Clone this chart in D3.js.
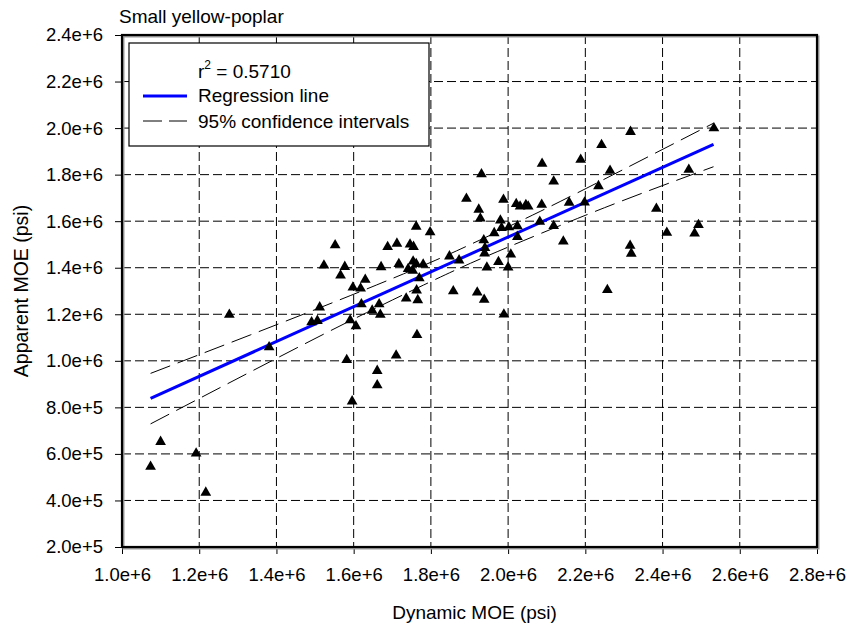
<!DOCTYPE html>
<html>
<head>
<meta charset="utf-8">
<script src="https://cdn.jsdelivr.net/npm/d3@7"></script>
<style>
  body { margin: 0; background: #fff; }
  text { font-family: "Liberation Sans", Arial, sans-serif; fill: #000; }
</style>
</head>
<body>
<script>
// Dynamic MOE (x) and apparent MOE (y), psi
const dynamicMOE = [
  1074000, 1100000, 1192000, 1217000, 1278000, 1381000, 1491000, 1506000, 1512000, 1552000,
  1523000, 1577000, 1566000, 1630000, 1598000, 1618000, 1620000, 1666000, 1648000, 1669000,
  1591000, 1606000, 1582000, 1710000, 1661000, 1661000, 1596000, 1671000, 1688000, 1712000,
  1746000, 1755000, 1717000, 1754000, 1762000, 1780000, 1741000, 1753000, 1770000, 1763000,
  1736000, 1766000, 1764000, 1762000, 1798000, 1848000, 1873000, 1858000, 1920000, 1938000,
  1892000, 1931000, 1924000, 1928000, 1937000, 1940000, 1939000, 1945000, 1964000, 1975000,
  1980000, 1983000, 1988000, 2002000, 2024000, 2024000, 2007000, 2000000, 1989000, 2021000,
  2031000, 2046000, 2052000, 2087000, 2082000, 2088000, 2118000, 2118000, 2143000, 2158000,
  2198000, 2188000, 2234000, 2242000, 2264000, 2317000, 2257000, 2316000, 2319000, 2384000,
  2411000, 2468000, 2493000, 2483000, 2533000
];
const apparentMOE = [
  545000, 652000, 602000, 434000, 1198000, 1059000, 1166000, 1172000, 1230000, 1497000,
  1410000, 1404000, 1367000, 1349000, 1315000, 1311000, 1243000, 1243000, 1216000, 1198000,
  1175000, 1149000, 1004000, 1023000, 957000, 895000, 826000, 1403000, 1489000, 1504000,
  1500000, 1490000, 1416000, 1427000, 1416000, 1414000, 1395000, 1387000, 1355000, 1303000,
  1268000, 1261000, 1111000, 1577000, 1553000, 1449000, 1432000, 1299000, 1294000, 1263000,
  1697000, 1802000, 1650000, 1612000, 1518000, 1485000, 1462000, 1401000, 1549000, 1425000,
  1603000, 1571000, 1692000, 1574000, 1579000, 1533000, 1457000, 1401000, 1199000, 1674000,
  1663000, 1670000, 1663000, 1671000, 1598000, 1847000, 1771000, 1580000, 1513000, 1680000,
  1681000, 1864000, 1751000, 1928000, 1817000, 1984000, 1305000, 1495000, 1461000, 1654000,
  1551000, 1821000, 1584000, 1547000, 2000000
];

// regression line end points
const regX = [1074000, 2532000];
const regY = [839000, 1930000];

// 95% confidence bands
const ciX     = [1074000, 1332000, 1591000, 1798000, 1927000, 2083000, 2290000, 2532000];
const ciUpper = [946000, 1111000, 1280000, 1422000, 1519000, 1642000, 1815000, 2021000];
const ciLower = [729000, 952000, 1172000, 1339000, 1437000, 1546000, 1684000, 1834000];

const xTicks = [1.0e6, 1.2e6, 1.4e6, 1.6e6, 1.8e6, 2.0e6, 2.2e6, 2.4e6, 2.6e6, 2.8e6];
const xTickLabels = ["1.0e+6", "1.2e+6", "1.4e+6", "1.6e+6", "1.8e+6", "2.0e+6", "2.2e+6", "2.4e+6", "2.6e+6", "2.8e+6"];
const yTicks = [2e5, 4e5, 6e5, 8e5, 1.0e6, 1.2e6, 1.4e6, 1.6e6, 1.8e6, 2.0e6, 2.2e6, 2.4e6];
const yTickLabels = ["2.0e+5", "4.0e+5", "6.0e+5", "8.0e+5", "1.0e+6", "1.2e+6", "1.4e+6", "1.6e+6", "1.8e+6", "2.0e+6", "2.2e+6", "2.4e+6"];

var margin = { top: 35, right: 31, bottom: 82, left: 122 },
    width = 848 - margin.left - margin.right,
    height = 629 - margin.top - margin.bottom;

var svg = d3.select("body")
    .append("svg")
    .attr("width", 848)
    .attr("height", 629)
    .append("g")
    .attr("transform", `translate(${margin.left},${margin.top})`);

var x = d3.scaleLinear().domain([1.0e6, 2.8e6]).range([0, width]);
var y = d3.scaleLinear().domain([2e5, 2.4e6]).range([height, 0]);

// dashed grid
svg.append("g")
    .selectAll("line")
    .data(xTicks.slice(1, -1))
    .join("line")
    .attr("x1", d => x(d)).attr("x2", d => x(d))
    .attr("y1", 0).attr("y2", height)
    .attr("stroke", "#000").attr("stroke-width", 1)
    .attr("stroke-dasharray", "9,4");

svg.append("g")
    .selectAll("line")
    .data(yTicks.slice(1, -1))
    .join("line")
    .attr("x1", 0).attr("x2", width)
    .attr("y1", d => y(d)).attr("y2", d => y(d))
    .attr("stroke", "#000").attr("stroke-width", 1)
    .attr("stroke-dasharray", "9,4");

// axes
var xAxis = svg.append("g")
    .attr("transform", `translate(0,${height})`)
    .call(d3.axisBottom(x)
        .tickValues(xTicks)
        .tickSize(7)
        .tickPadding(14)
        .tickFormat((d, i) => xTickLabels[i]));

var yAxis = svg.append("g")
    .call(d3.axisLeft(y)
        .tickValues(yTicks)
        .tickSize(7)
        .tickPadding(12)
        .tickFormat((d, i) => yTickLabels[i]));

[xAxis, yAxis].forEach(function (g) {
    g.select(".domain").remove();
    g.selectAll("line").attr("stroke", "#000");
    g.selectAll("text").style("font-size", "18.5px").attr("fill", "#000");
});

// plot frame with a light shadow
svg.append("rect")
    .attr("x", 1.5).attr("y", 1.5)
    .attr("width", width).attr("height", height)
    .attr("fill", "none").attr("stroke", "#9a9a9a").attr("stroke-width", 2);
svg.append("rect")
    .attr("x", 0).attr("y", 0)
    .attr("width", width).attr("height", height)
    .attr("fill", "none").attr("stroke", "#000").attr("stroke-width", 2.2);

// confidence bands
var ciLine = d3.line().curve(d3.curveNatural);
[ciUpper, ciLower].forEach(function (band) {
    svg.append("path")
        .attr("d", ciLine(ciX.map((v, i) => [x(v), y(band[i])])))
        .attr("fill", "none")
        .attr("stroke", "#000")
        .attr("stroke-width", 1)
        .attr("stroke-dasharray", "21,8");
});

// regression line
svg.append("path")
    .attr("d", d3.line()(regX.map((v, i) => [x(v), y(regY[i])])))
    .attr("stroke", "#0000ff")
    .attr("stroke-width", 3)
    .attr("fill", "none");

// points
svg.append("g")
    .selectAll("path")
    .data(dynamicMOE)
    .join("path")
    .attr("transform", (d, i) => `translate(${x(d)},${y(apparentMOE[i])})`)
    .attr("d", d3.symbol(d3.symbolTriangle, 50))
    .attr("fill", "#000");

// legend
var legend = svg.append("g").attr("transform", "translate(7,8)");
legend.append("rect")
    .attr("width", 300).attr("height", 103)
    .attr("fill", "#fff").attr("stroke", "#000").attr("stroke-width", 1.2);

var r2 = legend.append("text")
    .attr("x", 69).attr("y", 35)
    .style("font-size", "19px");
r2.append("tspan").text("r");
r2.append("tspan").attr("dy", -9).style("font-size", "12px").text("2");
r2.append("tspan").attr("dy", 9).text(" = 0.5710");

legend.append("line")
    .attr("x1", 14).attr("x2", 58).attr("y1", 53).attr("y2", 53)
    .attr("stroke", "#0000ff").attr("stroke-width", 3);
legend.append("text")
    .attr("x", 69).attr("y", 59)
    .style("font-size", "19px")
    .text("Regression line");

legend.append("line")
    .attr("x1", 14).attr("x2", 58).attr("y1", 78).attr("y2", 78)
    .attr("stroke", "#000").attr("stroke-width", 1)
    .attr("stroke-dasharray", "19,7");
legend.append("text")
    .attr("x", 69).attr("y", 85)
    .style("font-size", "19px")
    .text("95% confidence intervals");

// chart title
svg.append("text")
    .attr("x", -3)
    .attr("y", -12)
    .style("font-size", "19px")
    .text("Small yellow-poplar");

// axis titles
svg.append("text")
    .attr("x", width / 2 + 5)
    .attr("y", height + 72)
    .attr("text-anchor", "middle")
    .style("font-size", "19px")
    .text("Dynamic MOE (psi)");

svg.append("text")
    .attr("transform", "rotate(-90)")
    .attr("x", -(height / 2))
    .attr("y", -margin.left + 28)
    .attr("text-anchor", "middle")
    .style("font-size", "19.5px")
    .text("Apparent MOE (psi)");
</script>
</body>
</html>
